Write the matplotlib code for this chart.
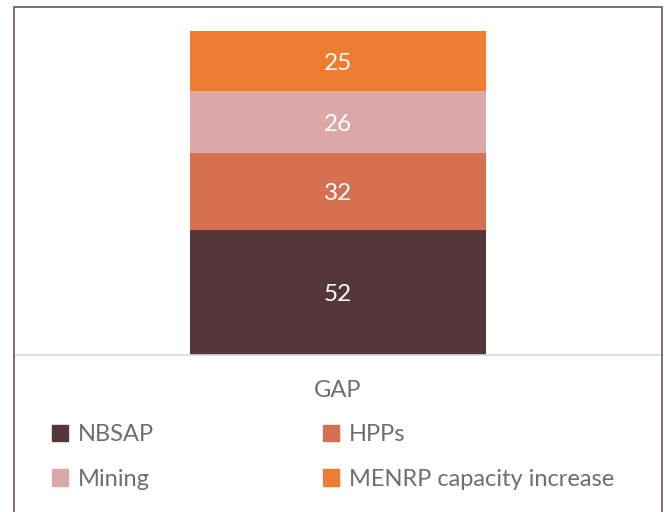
import matplotlib.pyplot as plt
from matplotlib.patches import Patch, Rectangle

category = "GAP"
series = ["NBSAP", "HPPs", "Mining", "MENRP capacity increase"]
values = [52, 32, 26, 25]
colors = ["#54363b", "#d57150", "#dca7a9", "#ee7d31"]

plt.rcParams['font.family'] = ['Lato', 'DejaVu Sans']
text_grey = '#6e6e6e'

fig = plt.figure(figsize=(6.64, 5.12), dpi=100)
ax = fig.add_axes([14 / 664, 157 / 512, 648 / 664, 324 / 512])

bottom = 0
for name, val, col in zip(series, values, colors):
    ax.bar(0, val, width=0.458, bottom=bottom, color=col, label=name)
    ax.text(0, bottom + val / 2, str(val), ha='center', va='center_baseline',
            color='white', fontsize=17.5)
    bottom += val

ax.set_xlim(-0.5, 0.5)
ax.set_ylim(0, sum(values))
ax.set_yticks([])
ax.set_xticks([0])
ax.set_xticklabels([category], fontsize=17, color=text_grey)
ax.tick_params(axis='x', length=0, pad=18)
for side in ['top', 'left', 'right']:
    ax.spines[side].set_visible(False)
ax.spines['bottom'].set_color('#d9d9d9')
ax.spines['bottom'].set_linewidth(1.2)

# legend filled column-wise, so reorder for row layout
handles = [Patch(color=c, label=s) for s, c in zip(series, colors)]
order = [0, 2, 1, 3]
fig.legend([handles[i] for i in order], [series[i] for i in order],
           ncol=2, loc='upper left', bbox_to_anchor=(31 / 664, 1 - 403 / 512),
           frameon=False, fontsize=17, labelcolor=text_grey,
           handlelength=0.68, handleheight=0.68, handletextpad=0.42,
           columnspacing=7.15, labelspacing=1.0)

# outer chart border
fig.patches.append(Rectangle((14 / 664, -0.05), 648 / 664, 1.05 - 7 / 512,
                             transform=fig.transFigure, fill=False,
                             edgecolor='#6b5560', linewidth=1.2))

fig.savefig("out.png", dpi=100)
